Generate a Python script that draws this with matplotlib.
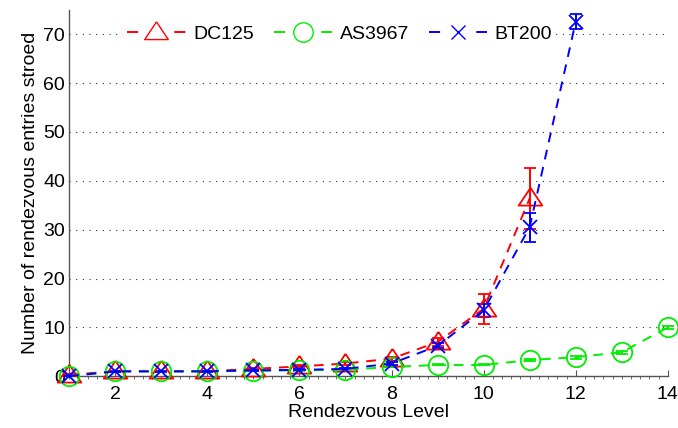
import matplotlib
matplotlib.use('Agg')
import matplotlib.pyplot as plt
from matplotlib.lines import Line2D
from matplotlib.ticker import MultipleLocator

plt.rcParams['font.family'] = ['Liberation Sans', 'DejaVu Sans']

# mean number of stored entries per rendezvous level, with std error bars
levels_dc = [1, 2, 3, 4, 5, 6, 7, 8, 9, 10, 11]
dc125 = [0.3, 1.0, 1.0, 1.0, 1.5, 2.0, 2.6, 3.6, 7.0, 13.8, 36.4]
dc125_err = [0.1, 0.1, 0.1, 0.1, 0.2, 0.2, 0.3, 0.4, 0.8, 3.1, 6.2]

levels_as = [1, 2, 3, 4, 5, 6, 7, 8, 9, 10, 11, 12, 13, 14]
as3967 = [0.0, 1.0, 1.0, 1.0, 1.1, 1.2, 1.3, 1.9, 2.3, 2.3, 3.3, 3.9, 4.9, 10.0]
as3967_err = [0.05, 0.1, 0.1, 0.1, 0.1, 0.1, 0.1, 0.1, 0.1, 0.1, 0.2, 0.3, 0.3, 0.3]

levels_bt = [1, 2, 3, 4, 5, 6, 7, 8, 9, 10, 11, 12]
bt200 = [0.0, 1.0, 1.0, 1.0, 1.2, 1.3, 1.5, 2.6, 6.2, 13.5, 30.5, 72.6]
bt200_err = [0.05, 0.1, 0.1, 0.1, 0.1, 0.1, 0.1, 0.3, 0.5, 1.3, 3.0, 1.5]

# wide, flat triangle anchored near its centroid (matlab-style '^')
tri = [(0, 0.9), (-1, -0.6), (1, -0.6), (0, 0.9)]

series = [
    ('DC125', levels_dc, dc125, dc125_err, '#ff0000', tri, 17),
    ('AS3967', levels_as, as3967, as3967_err, '#00ee00', 'o', 14),
    ('BT200', levels_bt, bt200, bt200_err, '#0000ff', 'x', 10),
]

fig = plt.figure(figsize=(6.78, 4.28), dpi=100)
ax = fig.add_axes([0.102, 0.121, 0.883, 0.856])

handles = []
for name, x, y, err, col, mk, ms in series:
    ax.errorbar(x, y, yerr=err, color=col, ls=(0, (5, 4)), lw=1.4,
                marker=mk, ms=ms, mfc='none', mec=col, mew=1.3,
                ecolor=col, elinewidth=1.4, capsize=4.5, capthick=1.4,
                clip_on=False, zorder=3)
    # legend key: one short dash each side of the marker
    handles.append(Line2D([], [], color=col, ls=(0, (5.7, 18.6)), lw=1.4,
                          marker=mk, ms=ms, mfc='none', mec=col,
                          mew=1.0))

ax.set_xlim(1, 14)
ax.set_ylim(0, 75)
ax.set_xticks([2, 4, 6, 8, 10, 12, 14])
ax.xaxis.set_minor_locator(MultipleLocator(0.2))
ax.set_yticks(range(0, 71, 10))
ax.tick_params(axis='both', direction='in', labelsize=14, colors='#555555',
               labelcolor='black')
ax.tick_params(axis='x', which='major', length=4, pad=7)
ax.tick_params(axis='x', which='minor', length=2, color='#555555')
ax.tick_params(axis='y', length=0, pad=3)
ax.yaxis.grid(True, ls=(0, (1, 5)), color='#333333', lw=0.8)
ax.set_axisbelow(True)

for side in ['top', 'right']:
    ax.spines[side].set_visible(False)
for side in ['left', 'bottom']:
    ax.spines[side].set_color('#555555')
    ax.spines[side].set_linewidth(1.0)

ax.set_xlabel('Rendezvous Level', fontsize=14, labelpad=1)
ax.set_ylabel('Number of rendezvous entries stroed', fontsize=14, labelpad=3)

leg = ax.legend(handles, ['DC125', 'AS3967', 'BT200'], ncol=3,
                loc='upper center', bbox_to_anchor=(0.452, 0.996),
                fontsize=14, handlelength=3.0, columnspacing=1.0,
                handletextpad=0.4, borderpad=0.2, frameon=True)
leg.get_frame().set_facecolor('white')
leg.get_frame().set_edgecolor('none')
leg.get_frame().set_alpha(1)

fig.savefig('out.png', dpi=100)
